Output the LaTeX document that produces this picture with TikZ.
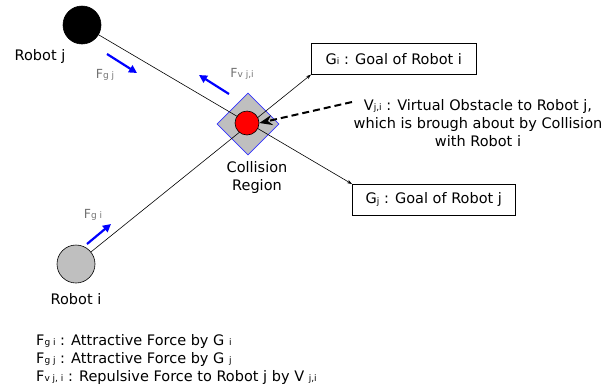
\documentclass[tikz,border=0pt]{standalone}
\usepackage{fontspec}
\setmainfont{DejaVu Sans}
\usetikzlibrary{arrows.meta,shapes.geometric}
% small lowered index letters
\newcommand{\ix}[1]{\raisebox{-0.5pt}{\fontsize{9}{9}\selectfont #1}}
\begin{document}
\begin{tikzpicture}[x=1pt,y=-1pt,
  txt/.style={font=\fontsize{14.5}{18}\selectfont, inner sep=0pt},
  flabel/.style={font=\fontsize{12.5}{15}\selectfont, text=black!55, inner sep=0pt},
  robot/.style={circle, draw=black, line width=0.6pt, minimum size=38pt, inner sep=0pt},
  goalbox/.style={draw=black, line width=0.6pt, font=\fontsize{14.5}{18}\selectfont,
                  minimum height=31pt, inner xsep=6pt},
  path/.style={line width=0.6pt, -{Stealth[length=5pt,width=3.5pt]}},
  force/.style={blue, line width=2.2pt, -{Triangle[length=8pt,width=8pt]}}]
\useasboundingbox (0,0) rectangle (615,389);

% robots
\node[robot, fill=black] (rj) at (82,25) {};
\node[robot, fill=black!25] (ri) at (76,264) {};
\node[txt] (rjl) at (40,56) {Robot j};
\node[txt] (ril) at (76,299) {Robot i};

% goals
\node[goalbox, anchor=north west, minimum width=165pt] (gi) at (311,43) {G\ix{i} : Goal of Robot i};
\node[goalbox, anchor=north west, minimum width=163pt] (gj) at (352,184) {G\ix{j} : Goal of Robot j};

% collision region
\node[diamond, draw=blue!80, fill=black!25, line width=0.6pt, minimum size=62pt, inner sep=0pt] (cr) at (248,124) {};
\node[txt, align=center] (crl) at (257,177) {Collision\\Region};

% paths to goals
\draw[path] (rj) -- (gj.north west);
\draw[path] (ri) -- (gi.south west);

% virtual obstacle
\node[circle, draw=black, fill=red, line width=0.6pt, minimum size=24pt, inner sep=0pt] (vo) at (247,123) {};

\node[txt, align=center] (vt) at (478,123) {V\ix{j,i} : Virtual Obstacle to Robot j,\\which is brough about by Collision\\with Robot i};
\coordinate (vs) at (352,102);
\draw[line width=2pt, dash pattern=on 7pt off 4pt, -{Stealth[length=13pt,width=10pt]}] (vs) -- (vo.east);

% forces
\coordinate (fgj0) at (107,54);  \coordinate (fgj1) at (137,73);
\coordinate (fv0) at (229,94);   \coordinate (fv1) at (199,75);
\coordinate (fgi0) at (87,244);  \coordinate (fgi1) at (111,224);
\draw[force] (fgj0) -- (fgj1);
\draw[force] (fv0) -- (fv1);
\draw[force] (fgi0) -- (fgi1);
\node[flabel] (fgjl) at (105,75) {F\ix{g j}};
\node[flabel] (fvl) at (242,74) {F\ix{v j,i}};
\node[flabel] (fgil) at (93,215) {F\ix{g i}};

% legend
\node[txt, align=left, anchor=west] (leg) at (36,359)
  {F\ix{g i} : Attractive Force by G \ix{i}\\
   F\ix{g j} : Attractive Force by G \ix{j}\\
   F\ix{v j, i} : Repulsive Force to Robot j by V \ix{j,i}};
\end{tikzpicture}
\end{document}
